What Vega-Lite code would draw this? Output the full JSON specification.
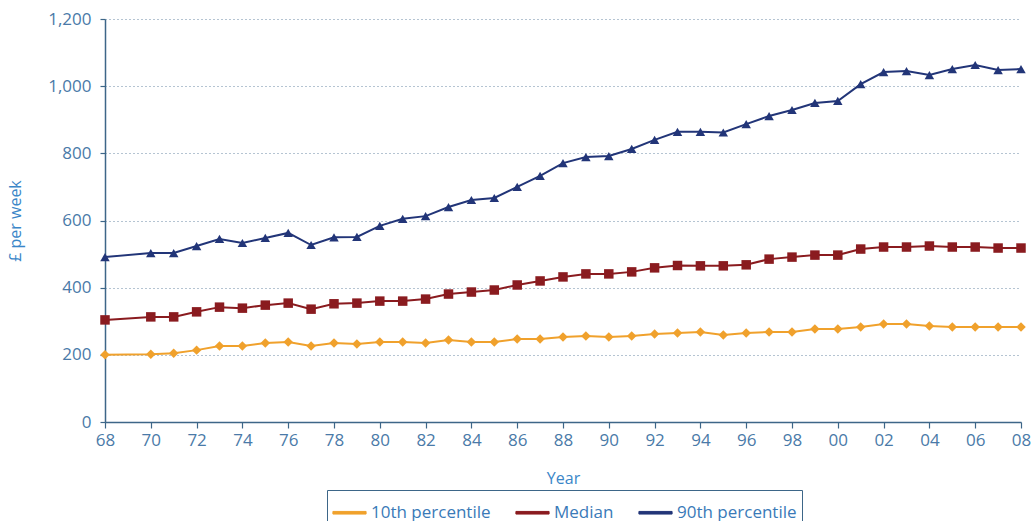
{
  "$schema": "https://vega.github.io/schema/vega-lite/v6.json",
  "autosize": "none",
  "width": 916,
  "height": 403,
  "padding": {"left": 105, "top": 19, "right": 10, "bottom": 99},
  "background": "white",
  "config": {
    "font": "Open Sans",
    "view": {"stroke": null},
    "axis": {
      "labelFont": "Open Sans",
      "labelFontSize": 17,
      "labelColor": "#4a7aa8",
      "titleFont": "Open Sans",
      "titleFontSize": 16,
      "titleFontWeight": "normal",
      "titleColor": "#3a86c8",
      "domainColor": "#3d6688",
      "domainWidth": 1.5,
      "tickColor": "#3d6688",
      "tickWidth": 1.2
    }
  },
  "data": {
    "values": [
      {"year": 1968, "series": "10th percentile", "value": 200},
      {"year": 1970, "series": "10th percentile", "value": 202},
      {"year": 1971, "series": "10th percentile", "value": 205},
      {"year": 1972, "series": "10th percentile", "value": 214},
      {"year": 1973, "series": "10th percentile", "value": 226},
      {"year": 1974, "series": "10th percentile", "value": 226},
      {"year": 1975, "series": "10th percentile", "value": 235},
      {"year": 1976, "series": "10th percentile", "value": 238},
      {"year": 1977, "series": "10th percentile", "value": 226},
      {"year": 1978, "series": "10th percentile", "value": 235},
      {"year": 1979, "series": "10th percentile", "value": 232},
      {"year": 1980, "series": "10th percentile", "value": 238},
      {"year": 1981, "series": "10th percentile", "value": 238},
      {"year": 1982, "series": "10th percentile", "value": 235},
      {"year": 1983, "series": "10th percentile", "value": 244},
      {"year": 1984, "series": "10th percentile", "value": 238},
      {"year": 1985, "series": "10th percentile", "value": 238},
      {"year": 1986, "series": "10th percentile", "value": 247},
      {"year": 1987, "series": "10th percentile", "value": 247},
      {"year": 1988, "series": "10th percentile", "value": 253},
      {"year": 1989, "series": "10th percentile", "value": 256},
      {"year": 1990, "series": "10th percentile", "value": 253},
      {"year": 1991, "series": "10th percentile", "value": 256},
      {"year": 1992, "series": "10th percentile", "value": 262},
      {"year": 1993, "series": "10th percentile", "value": 265},
      {"year": 1994, "series": "10th percentile", "value": 268},
      {"year": 1995, "series": "10th percentile", "value": 259},
      {"year": 1996, "series": "10th percentile", "value": 265},
      {"year": 1997, "series": "10th percentile", "value": 268},
      {"year": 1998, "series": "10th percentile", "value": 268},
      {"year": 1999, "series": "10th percentile", "value": 277},
      {"year": 2000, "series": "10th percentile", "value": 277},
      {"year": 2001, "series": "10th percentile", "value": 283},
      {"year": 2002, "series": "10th percentile", "value": 292},
      {"year": 2003, "series": "10th percentile", "value": 292},
      {"year": 2004, "series": "10th percentile", "value": 286},
      {"year": 2005, "series": "10th percentile", "value": 283},
      {"year": 2006, "series": "10th percentile", "value": 283},
      {"year": 2007, "series": "10th percentile", "value": 283},
      {"year": 2008, "series": "10th percentile", "value": 283},
      {"year": 1968, "series": "Median", "value": 304},
      {"year": 1970, "series": "Median", "value": 313},
      {"year": 1971, "series": "Median", "value": 313},
      {"year": 1972, "series": "Median", "value": 328},
      {"year": 1973, "series": "Median", "value": 342},
      {"year": 1974, "series": "Median", "value": 339},
      {"year": 1975, "series": "Median", "value": 348},
      {"year": 1976, "series": "Median", "value": 354},
      {"year": 1977, "series": "Median", "value": 336},
      {"year": 1978, "series": "Median", "value": 352},
      {"year": 1979, "series": "Median", "value": 354},
      {"year": 1980, "series": "Median", "value": 360},
      {"year": 1981, "series": "Median", "value": 360},
      {"year": 1982, "series": "Median", "value": 366},
      {"year": 1983, "series": "Median", "value": 381},
      {"year": 1984, "series": "Median", "value": 387},
      {"year": 1985, "series": "Median", "value": 393},
      {"year": 1986, "series": "Median", "value": 408},
      {"year": 1987, "series": "Median", "value": 420},
      {"year": 1988, "series": "Median", "value": 432},
      {"year": 1989, "series": "Median", "value": 441},
      {"year": 1990, "series": "Median", "value": 441},
      {"year": 1991, "series": "Median", "value": 447},
      {"year": 1992, "series": "Median", "value": 459},
      {"year": 1993, "series": "Median", "value": 466},
      {"year": 1994, "series": "Median", "value": 465},
      {"year": 1995, "series": "Median", "value": 465},
      {"year": 1996, "series": "Median", "value": 468},
      {"year": 1997, "series": "Median", "value": 485},
      {"year": 1998, "series": "Median", "value": 491},
      {"year": 1999, "series": "Median", "value": 497},
      {"year": 2000, "series": "Median", "value": 497},
      {"year": 2001, "series": "Median", "value": 515},
      {"year": 2002, "series": "Median", "value": 521},
      {"year": 2003, "series": "Median", "value": 521},
      {"year": 2004, "series": "Median", "value": 524},
      {"year": 2005, "series": "Median", "value": 521},
      {"year": 2006, "series": "Median", "value": 521},
      {"year": 2007, "series": "Median", "value": 518},
      {"year": 2008, "series": "Median", "value": 518},
      {"year": 1968, "series": "90th percentile", "value": 491},
      {"year": 1970, "series": "90th percentile", "value": 503},
      {"year": 1971, "series": "90th percentile", "value": 503},
      {"year": 1972, "series": "90th percentile", "value": 524},
      {"year": 1973, "series": "90th percentile", "value": 545},
      {"year": 1974, "series": "90th percentile", "value": 533},
      {"year": 1975, "series": "90th percentile", "value": 548},
      {"year": 1976, "series": "90th percentile", "value": 563},
      {"year": 1977, "series": "90th percentile", "value": 527},
      {"year": 1978, "series": "90th percentile", "value": 550},
      {"year": 1979, "series": "90th percentile", "value": 551},
      {"year": 1980, "series": "90th percentile", "value": 584},
      {"year": 1981, "series": "90th percentile", "value": 605},
      {"year": 1982, "series": "90th percentile", "value": 613},
      {"year": 1983, "series": "90th percentile", "value": 640},
      {"year": 1984, "series": "90th percentile", "value": 661},
      {"year": 1985, "series": "90th percentile", "value": 667},
      {"year": 1986, "series": "90th percentile", "value": 700},
      {"year": 1987, "series": "90th percentile", "value": 733},
      {"year": 1988, "series": "90th percentile", "value": 771},
      {"year": 1989, "series": "90th percentile", "value": 789},
      {"year": 1990, "series": "90th percentile", "value": 792},
      {"year": 1991, "series": "90th percentile", "value": 813},
      {"year": 1992, "series": "90th percentile", "value": 840},
      {"year": 1993, "series": "90th percentile", "value": 864},
      {"year": 1994, "series": "90th percentile", "value": 864},
      {"year": 1995, "series": "90th percentile", "value": 862},
      {"year": 1996, "series": "90th percentile", "value": 887},
      {"year": 1997, "series": "90th percentile", "value": 911},
      {"year": 1998, "series": "90th percentile", "value": 929},
      {"year": 1999, "series": "90th percentile", "value": 950},
      {"year": 2000, "series": "90th percentile", "value": 956},
      {"year": 2001, "series": "90th percentile", "value": 1006},
      {"year": 2002, "series": "90th percentile", "value": 1042},
      {"year": 2003, "series": "90th percentile", "value": 1045},
      {"year": 2004, "series": "90th percentile", "value": 1033},
      {"year": 2005, "series": "90th percentile", "value": 1051},
      {"year": 2006, "series": "90th percentile", "value": 1063},
      {"year": 2007, "series": "90th percentile", "value": 1048},
      {"year": 2008, "series": "90th percentile", "value": 1051}
    ]
  },
  "encoding": {
    "x": {
      "field": "year",
      "type": "quantitative",
      "scale": {"domain": [1968, 2008], "nice": false, "zero": false},
      "axis": {
        "title": "Year",
        "values": [1968, 1970, 1972, 1974, 1976, 1978, 1980, 1982, 1984, 1986, 1988, 1990, 1992, 1994, 1996, 1998, 2000, 2002, 2004, 2006, 2008],
        "labelExpr": "(datum.value % 100 < 10 ? '0' : '') + (datum.value % 100)",
        "grid": false,
        "tickSize": 6,
        "labelPadding": 4,
        "titlePadding": 22,
        "labelFlush": false
      }
    },
    "y": {
      "field": "value",
      "type": "quantitative",
      "scale": {"domain": [0, 1200], "nice": false},
      "axis": {
        "title": "£ per week",
        "values": [0, 200, 400, 600, 800, 1000, 1200],
        "format": ",d",
        "grid": true,
        "gridDash": [1, 3],
        "gridColor": "#6d8aa6",
        "gridWidth": 1.2,
        "tickSize": 5,
        "labelPadding": 9,
        "titlePadding": 24
      }
    },
    "color": {
      "field": "series",
      "type": "nominal",
      "scale": {
        "domain": ["10th percentile", "Median", "90th percentile"],
        "range": ["#f0a12c", "#8a1b1f", "#223578"]
      },
      "legend": {
        "title": null,
        "orient": "none",
        "legendX": 222,
        "legendY": 471,
        "direction": "horizontal",
        "strokeColor": "#3d6688",
        "padding": 5,
        "labelFont": "Open Sans",
        "labelFontSize": 17,
        "labelColor": "#3a7ab8",
        "labelOffset": 4,
        "columnPadding": 22,
        "symbolType": "M-1,-0.08L1,-0.08L1,0.08L-1,0.08Z",
        "symbolSize": 1100,
        "symbolStrokeWidth": 1,
        "symbolOpacity": 1
      }
    }
  },
  "layer": [
    {
      "mark": {"type": "line", "strokeWidth": 2}
    },
    {
      "transform": [{"filter": "datum.series === '10th percentile'"}],
      "mark": {"type": "point", "filled": true, "opacity": 1, "size": 90, "shape": "diamond"}
    },
    {
      "transform": [{"filter": "datum.series === 'Median'"}],
      "mark": {"type": "point", "filled": true, "opacity": 1, "size": 90, "shape": "square"}
    },
    {
      "transform": [{"filter": "datum.series === '90th percentile'"}],
      "mark": {"type": "point", "filled": true, "opacity": 1, "size": 90, "shape": "triangle-up"}
    }
  ]
}
